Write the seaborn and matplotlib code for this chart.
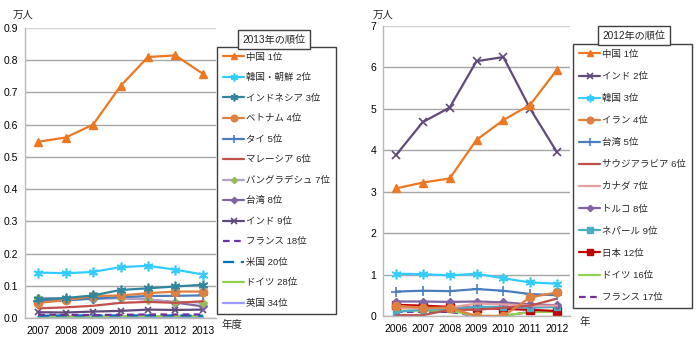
import matplotlib
matplotlib.use("Agg")
import matplotlib.pyplot as plt
import seaborn as sns
import numpy as np
from matplotlib.lines import Line2D

sns.set_style("white")
plt.rcParams['font.family'] = ['Liberation Sans', 'Noto Sans CJK JP']

# ---------------- Left chart data (2013年の順位) ----------------
years_a = ['2007', '2008', '2009', '2010', '2011', '2012', '2013']
china_a = [0.547, 0.560, 0.600, 0.720, 0.810, 0.815, 0.758]
korea_a = [0.141, 0.139, 0.143, 0.158, 0.162, 0.150, 0.135]
indonesia_a = [0.058, 0.062, 0.070, 0.087, 0.092, 0.098, 0.103]
vietnam_a = [0.047, 0.055, 0.068, 0.070, 0.077, 0.082, 0.082]
thai_a = [0.052, 0.055, 0.060, 0.065, 0.068, 0.069, 0.070]
malaysia_a = [0.030, 0.033, 0.038, 0.047, 0.050, 0.047, 0.052]
bangladesh_a = [0.063, 0.060, 0.063, 0.062, 0.057, 0.050, 0.048]
taiwan_a = [0.055, 0.057, 0.060, 0.062, 0.058, 0.048, 0.036]
india_a = [0.018, 0.017, 0.020, 0.022, 0.026, 0.025, 0.026]
france_a = [0.010, 0.010, 0.009, 0.010, 0.011, 0.011, 0.011]
us_a = [0.007, 0.008, 0.008, 0.008, 0.008, 0.008, 0.007]
germany_a = [0.005, 0.005, 0.005, 0.006, 0.006, 0.006, 0.006]
uk_a = [0.004, 0.004, 0.004, 0.004, 0.004, 0.004, 0.004]
labels_a = ['中国 1位', '韓国・朝鮮 2位', 'インドネシア 3位', 'ベトナム 4位', 'タイ 5位',
            'マレーシア 6位', 'バングラデシュ 7位', '台湾 8位', 'インド 9位',
            'フランス 18位', '米国 20位', 'ドイツ 28位', '英国 34位']

# ---------------- Right chart data (2012年の順位) ----------------
years_b = ['2006', '2007', '2008', '2009', '2010', '2011', '2012']
china_b = [3.08, 3.22, 3.32, 4.25, 4.73, 5.10, 5.95]
india_b = [3.88, 4.68, 5.03, 6.15, 6.25, 5.00, 3.95]
korea_b = [1.02, 1.01, 0.98, 1.02, 0.91, 0.81, 0.78]
iran_b = [0.25, 0.20, 0.20, 0.00, 0.00, 0.45, 0.57]
taiwan_b = [0.59, 0.61, 0.60, 0.65, 0.61, 0.53, 0.50]
saudi_b = [0.02, 0.02, 0.15, 0.15, 0.20, 0.25, 0.42]
canada_b = [0.20, 0.18, 0.20, 0.30, 0.28, 0.25, 0.25]
turkey_b = [0.35, 0.35, 0.34, 0.35, 0.33, 0.28, 0.26]
nepal_b = [0.10, 0.15, 0.17, 0.22, 0.22, 0.20, 0.22]
japan_b = [0.27, 0.25, 0.22, 0.20, 0.17, 0.15, 0.12]
germany_b = [0.13, 0.13, 0.13, 0.00, 0.00, 0.10, 0.10]
france_b = [0.10, 0.10, 0.10, 0.00, 0.00, 0.10, 0.10]
labels_b = ['中国 1位', 'インド 2位', '韓国 3位', 'イラン 4位', '台湾 5位',
            'サウジアラビア 6位', 'カナダ 7位', 'トルコ 8位', 'ネパール 9位',
            '日本 12位', 'ドイツ 16位', 'フランス 17位']

ast = (6, 2, 0)
styles_a = [
    dict(color='#EE7722', marker='^', ms=6),
    dict(color='#33CCFF', marker=ast, ms=7, mew=1.2),
    dict(color='#31859C', marker=ast, ms=7, mew=1.2),
    dict(color='#DD8040', marker='o', ms=6),
    dict(color='#4A7EBB', marker='+', ms=7, mew=1.2),
    dict(color='#C0504D', marker=None),
    dict(color='#B3A2C7', marker='D', ms=4, mfc='#9BBB59', mec='#9BBB59'),
    dict(color='#8064A2', marker='D', ms=4),
    dict(color='#604A7B', marker='x', ms=5, mew=1.2),
    dict(color='#7030A0', marker=None, ls=(0, (3, 2))),
    dict(color='#0070C0', marker=None, ls=(0, (5, 3))),
    dict(color='#92D050', marker=None),
    dict(color='#9999FF', marker=None),
]
styles_b = [
    dict(color='#EE7722', marker='^', ms=6),
    dict(color='#604A7B', marker='x', ms=6, mew=1.2),
    dict(color='#33CCFF', marker=ast, ms=7, mew=1.2),
    dict(color='#DD8040', marker='o', ms=6),
    dict(color='#4A7EBB', marker='+', ms=7, mew=1.2),
    dict(color='#C0504D', marker=None),
    dict(color='#E6A0A0', marker=None),
    dict(color='#8064A2', marker='D', ms=4),
    dict(color='#4BACC6', marker='s', ms=5),
    dict(color='#C00000', marker='s', ms=6),
    dict(color='#92D050', marker=None),
    dict(color='#7030A0', marker=None, ls=(0, (3, 2))),
]

series_a = [china_a, korea_a, indonesia_a, vietnam_a, thai_a, malaysia_a, bangladesh_a,
            taiwan_a, india_a, france_a, us_a, germany_a, uk_a]
series_b = [china_b, india_b, korea_b, iran_b, taiwan_b, saudi_b, canada_b, turkey_b,
            nepal_b, japan_b, germany_b, france_b]

fig = plt.figure(figsize=(7.0, 3.43), dpi=100)
W, H = 700, 343
TICK_FS = 7.5
LEG_FS = 6.8


def fx(px):
    return px / W


def fy(py):
    return 1 - py / H


def draw(ax, years, series, labels, styles, ymax, ystep, fmt):
    x = np.arange(len(years))
    handles = []
    # draw in reverse so the top-ranked lines sit on top
    for vals, lab, st in reversed(list(zip(series, labels, styles))):
        st = dict(st)
        ls = st.pop('ls', '-')
        marker = st.pop('marker')
        ms = st.pop('ms', 6)
        mew = st.pop('mew', 1.0)
        mfc = st.pop('mfc', st['color'])
        mec = st.pop('mec', st['color'])
        sns.lineplot(x=x, y=vals, ax=ax, color=st['color'], linestyle=ls, linewidth=1.6,
                     marker=marker, markersize=ms, markeredgewidth=mew,
                     markerfacecolor=mfc, markeredgecolor=mec, legend=False)
    for lab, st in zip(labels, styles):
        handles.append(Line2D([], [], color=st['color'], linestyle=st.get('ls', '-'),
                              linewidth=1.6, marker=st.get('marker'),
                              markersize=st.get('ms', 6) * 0.8,
                              markeredgewidth=st.get('mew', 1.0),
                              markerfacecolor=st.get('mfc', st['color']),
                              markeredgecolor=st.get('mec', st['color'])))
    ax.set_xlim(-0.48, len(years) - 0.52)
    ax.set_ylim(0, ymax)
    ax.set_xticks(x)
    ax.set_xticklabels(years)
    ticks = np.arange(0, ymax + ystep / 2, ystep)
    ax.set_yticks(ticks)
    ax.set_yticklabels([fmt.format(t) for t in ticks])
    ax.yaxis.grid(True, color='#A6A6A6', linewidth=1.0)
    ax.xaxis.grid(False)
    gl = ax.get_ygridlines()
    gl[-1].set_color('#D0D0D0')
    for s in ['top', 'right']:
        ax.spines[s].set_visible(False)
    for s in ['left', 'bottom']:
        ax.spines[s].set_color('#B8B8B8')
        ax.spines[s].set_linewidth(1.0)
    ax.tick_params(axis='both', length=0, labelsize=TICK_FS, colors='black')
    ax.tick_params(axis='y', pad=5)
    ax.tick_params(axis='x', pad=6)
    ax.set_xlabel('')
    ax.set_ylabel('')
    return handles


ax1 = fig.add_axes([fx(25), fy(318), fx(216 - 25), (318 - 28) / H])
h1 = draw(ax1, years_a, series_a, labels_a, styles_a, 0.9, 0.1, '{:.1f}')
ax2 = fig.add_axes([fx(383), fy(316), fx(570 - 383), (316 - 26) / H])
h2 = draw(ax2, years_b, series_b, labels_b, styles_b, 7, 1, '{:.0f}')

leg_kw = dict(loc='upper left', bbox_transform=fig.transFigure, fontsize=LEG_FS,
              frameon=True, fancybox=False, edgecolor='#404040', handlelength=2.3,
              handletextpad=0.2, borderpad=0.6, borderaxespad=0, framealpha=1)
l1 = fig.legend(h1, labels_a, bbox_to_anchor=(fx(217), fy(47)), labelspacing=1.21, **leg_kw)
l1.get_frame().set_linewidth(1.0)
l2 = fig.legend(h2, labels_b, bbox_to_anchor=(fx(573), fy(44)), labelspacing=1.38, **leg_kw)
l2.get_frame().set_linewidth(1.0)

box = dict(boxstyle='square,pad=0.45', facecolor='white', edgecolor='#404040', linewidth=1.0)
fig.text(fx(274), fy(39.5), '2013年の順位', ha='center', va='center', fontsize=7.3, bbox=box, zorder=10)
fig.text(fx(634), fy(35.5), '2012年の順位', ha='center', va='center', fontsize=7.3, bbox=box, zorder=10)

fig.text(fx(13), fy(15), '万人', ha='left', va='center', fontsize=TICK_FS)
fig.text(fx(373), fy(15), '万人', ha='left', va='center', fontsize=TICK_FS)
fig.text(fx(222), fy(325), '年度', ha='left', va='center', fontsize=TICK_FS)
fig.text(fx(580), fy(322), '年', ha='left', va='center', fontsize=TICK_FS)

fig.savefig('out.png', dpi=100)
